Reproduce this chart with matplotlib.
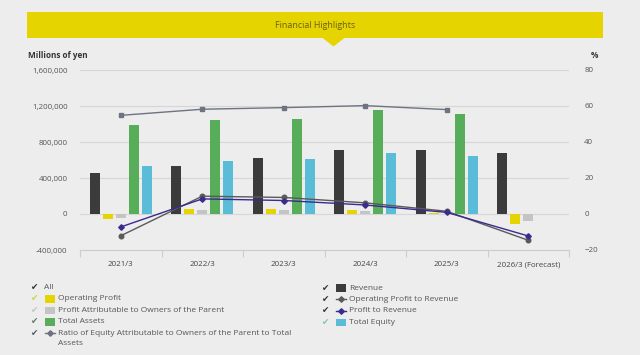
import matplotlib.pyplot as plt
import matplotlib.patches as patches
import numpy as np

plt.rcParams['font.family'] = ['Open Sans', 'DejaVu Sans']

categories = ["2021/3", "2022/3", "2023/3", "2024/3", "2025/3", "2026/3 (Forecast)"]
revenue = [451000, 532000, 624000, 716000, 708000, 675000]
operating_profit = [-59000, 51000, 51000, 48000, 7000, -106000]
profit_owners = [-40000, 40000, 44000, 33000, 5000, -81000]
total_assets = [993000, 1041000, 1056000, 1152000, 1115000, np.nan]
total_equity = [536000, 591000, 613000, 683000, 639000, np.nan]
equity_ratio = [54.8, 58.2, 59.1, 60.2, 58.0, np.nan]
op_margin = [-12.1, 9.9, 9.2, 6.2, 1.5, -14.6]
profit_margin = [-7.2, 8.4, 7.5, 5.0, 0.9, -12.2]

bg = '#ededed'
c_rev = '#3b3b3b'
c_op = '#e5d400'
c_prof = '#c4c4c4'
c_assets = '#58ad5a'
c_equity = '#5bbcd8'
c_ratio = '#6d7380'
c_opm = '#5a5a5a'
c_pm = '#3a2b8e'
txt = '#555555'

fig = plt.figure(figsize=(6.4, 3.55), dpi=100, facecolor=bg)

# overlay in pixel coords for banner + legend
ov = fig.add_axes([0, 0, 1, 1], zorder=0)
ov.set_xlim(0, 640)
ov.set_ylim(355, 0)
ov.axis('off')

ov.add_patch(patches.Rectangle((27, 12), 576, 26, fc='#e6d400', ec='none'))
ov.add_patch(patches.Polygon([(322, 37.5), (345, 37.5), (333.5, 46.5)], fc='#e6d400', ec='none'))
ov.text(315, 25.5, "Financial Highlights", ha='center', va='center', fontsize=6.4, color='#6a6010')
ov.text(28, 55, "Millions of yen", ha='left', va='center', fontsize=5.9, fontweight='bold', color='#333333')
ov.text(598, 55, "%", ha='right', va='center', fontsize=5.9, fontweight='bold', color='#333333')

ax = fig.add_axes([80/640, 1 - 250/355, (569 - 80)/640, 180/355], zorder=1)
ax.set_facecolor('none')

x = np.arange(len(categories))
w = 0.125
step = 0.16
ax.bar(x - 2*step, revenue, w, color=c_rev, zorder=2)
ax.bar(x - step, operating_profit, w, color=c_op, zorder=2)
ax.bar(x, profit_owners, w, color=c_prof, zorder=2)
ax.bar(x + step, total_assets, w, color=c_assets, zorder=2)
ax.bar(x + 2*step, total_equity, w, color=c_equity, zorder=2)

ax.set_xlim(-0.5, len(categories) - 0.5)
ax.set_ylim(-400000, 1600000)
yt = np.arange(-400000, 1600001, 400000)
ax.set_yticks(yt)
ax.set_yticklabels([f"{v:,}" for v in yt], fontsize=5.7, color=txt)
ax.yaxis.grid(True, color='#d6d6d6', lw=0.8, zorder=0)
ax.tick_params(axis='y', length=0, pad=9)
ax.set_xticks(x)
ax.set_xticklabels(categories, fontsize=5.7, color='#444444')
ax.set_xticks(np.arange(-0.5, len(categories)), minor=True)
ax.tick_params(axis='x', which='major', length=0, pad=8)
ax.tick_params(axis='x', which='minor', length=5, color='#cccccc', width=0.8)
for s in ['top', 'left', 'right']:
    ax.spines[s].set_visible(False)
ax.spines['bottom'].set_color('#cccccc')
ax.spines['bottom'].set_linewidth(0.8)

ax2 = ax.twinx()
ax2.set_ylim(-20, 80)
ax2.set_yticks(np.arange(-20, 81, 20))
ax2.tick_params(axis='y', length=0, pad=11, labelsize=5.7, labelcolor=txt)
for s in ax2.spines.values():
    s.set_visible(False)
ax2.plot(x, equity_ratio, color=c_ratio, lw=1.0, marker='s', ms=3.4, zorder=3)
ax2.plot(x, op_margin, color=c_opm, lw=1.0, marker='o', ms=3.3, zorder=3)
ax2.plot(x, profit_margin, color=c_pm, lw=1.0, marker='D', ms=2.8, zorder=4)

# legend
left_items = [("All", None, '#333333'),
              ("Operating Profit", ('bar', c_op), '#c9d64a'),
              ("Profit Attributable to Owners of the Parent", ('bar', c_prof), '#c4c4c4'),
              ("Total Assets", ('bar', c_assets), '#5f7a66'),
              ("Ratio of Equity Attributable to Owners of the Parent to Total\nAssets", ('line', c_ratio), '#555b66')]
right_items = [("Revenue", ('bar', c_rev), '#333333'),
               ("Operating Profit to Revenue", ('line', c_opm), '#333333'),
               ("Profit to Revenue", ('line', c_pm), '#333333'),
               ("Total Equity", ('bar', c_equity), '#7fc3b8')]


def draw_legend(items, x0, y0, dy):
    for i, (label, sw, ck) in enumerate(items):
        y = y0 + i*dy
        ov.text(x0, y, "\u2714", ha='left', va='center', fontsize=6.3, color=ck, family='DejaVu Sans')
        tx = x0 + 13
        if sw is not None:
            tx = x0 + 27
            kind, col = sw
            if kind == 'bar':
                ov.add_patch(patches.Rectangle((x0 + 14, y - 3.6), 10, 7.6, fc=col, ec='none'))
            else:
                ov.plot([x0 + 14, x0 + 24], [y, y], color=col, lw=1.0)
                ov.plot([x0 + 19], [y], color=col, marker='D', ms=2.8)
        for j, part in enumerate(label.split('\n')):
            ov.text(tx, y + j*10.5, part, ha='left', va='center', fontsize=6.0, color=txt)


draw_legend(left_items, 31, 287.5, 11.4)
draw_legend(right_items, 322, 288, 11.4)

fig.savefig("out.png", dpi=100, facecolor=bg)
